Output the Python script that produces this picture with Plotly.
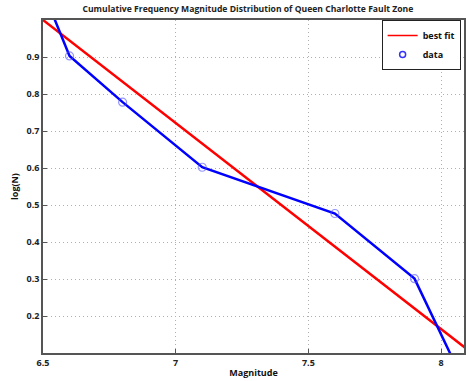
import plotly.graph_objects as go

# Data
magnitude = [6.5, 6.6, 6.8, 7.1, 7.6, 7.9, 8.1]
log_n = [1.079, 0.903, 0.778, 0.602, 0.477, 0.301, 0.0]
data_mag = [6.6, 6.8, 7.1, 7.6, 7.9]
data_log_n = [0.903, 0.778, 0.602, 0.477, 0.301]
fit_mag = [6.5, 8.1]
fit_log_n = [1.0, 0.109]
x_ticks = [6.5, 7, 7.5, 8]
x_tick_labels = ["6.5", "7", "7.5", "8"]
y_ticks = [0.2, 0.3, 0.4, 0.5, 0.6, 0.7, 0.8, 0.9]
y_tick_labels = ["0.2", "0.3", "0.4", "0.5", "0.6", "0.7", "0.8", "0.9"]

font_family = "Open Sans"
axis_col = "#555555"

fig = go.Figure()
fig.add_trace(go.Scatter(x=fit_mag, y=fit_log_n, mode="lines", showlegend=False,
                         line=dict(color="#ff0000", width=2.5)))
fig.add_trace(go.Scatter(x=magnitude, y=log_n, mode="lines", showlegend=False,
                         line=dict(color="#0000ff", width=2.5)))
fig.add_trace(go.Scatter(x=data_mag, y=data_log_n, mode="markers", showlegend=False,
                         marker=dict(symbol="circle-open", size=8, color="rgba(80,80,255,0.6)",
                                     line=dict(width=1.2))))
# legend entries (thin samples as in the reference)
fig.add_trace(go.Scatter(x=[None], y=[None], mode="lines", name="best fit",
                         line=dict(color="#ff0000", width=1.5)))
fig.add_trace(go.Scatter(x=[None], y=[None], mode="markers", name="data",
                         marker=dict(symbol="circle-open", size=6, color="#3333ff",
                                     line=dict(width=1.5))))

axis_common = dict(showline=True, linecolor=axis_col, linewidth=1.5, mirror=True,
                   ticks="inside", ticklen=4, tickcolor=axis_col,
                   showgrid=True, gridcolor="#b0b0b0", griddash="1px,3px", gridwidth=1,
                   zeroline=False,
                   tickfont=dict(family=font_family, size=9, color="#222222", weight="bold"))

label_font = dict(family=font_family, size=9, color="#111111", weight="bold")

fig.update_layout(
    width=466, height=381,
    margin=dict(l=43, r=0, t=20, b=28),
    paper_bgcolor="white", plot_bgcolor="white",
    title=dict(text="Cumulative Frequency Magnitude Distribution of Queen Charlotte Fault Zone",
               x=0.532, xanchor="center", y=0.985, yanchor="top",
               font=dict(family=font_family, size=8.6, color="#222222", weight="bold")),
    xaxis=dict(range=[6.5, 8.0865], tickvals=x_ticks, ticktext=x_tick_labels,
               title=dict(text="Magnitude", standoff=2, font=label_font),
               **axis_common),
    yaxis=dict(range=[0.1, 1.0], tickvals=y_ticks, ticktext=y_tick_labels,
               title=dict(text="log(N)", standoff=6, font=label_font),
               **axis_common),
    legend=dict(x=0.992, y=1.0, xanchor="right", yanchor="top",
                bgcolor="white", bordercolor="#222222", borderwidth=1,
                font=dict(family=font_family, size=9, color="#111111", weight="bold"),
                tracegroupgap=0, itemwidth=30),
    showlegend=True,
)

fig.write_html("out.html")
